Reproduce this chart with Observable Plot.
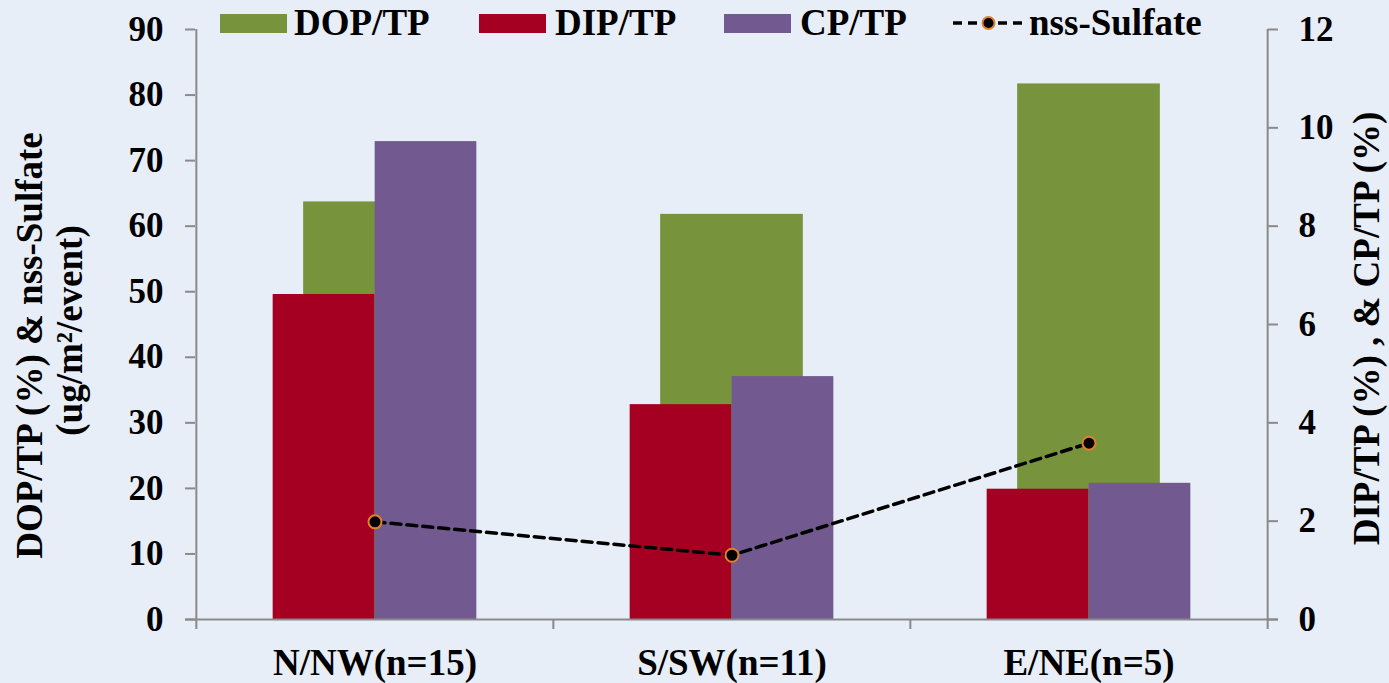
<!DOCTYPE html>
<html>
<head>
<meta charset="utf-8">
<script src="https://cdn.jsdelivr.net/npm/d3@7"></script>
<script src="https://cdn.jsdelivr.net/npm/@observablehq/plot@0.6"></script>
<style>
  html, body { margin: 0; padding: 0; background: #e8eef7; }
  #wrap { position: relative; width: 1389px; height: 683px; background: #e8eef7; overflow: hidden; }
  #legend { position: absolute; left: 0; top: 0; pointer-events: none; }
  svg { font-family: "Liberation Serif", "Times New Roman", serif; font-weight: bold; }
</style>
</head>
<body>
<div id="wrap"></div>
<script>
// ---- data ----
const categories = ["N/NW(n=15)", "S/SW(n=11)", "E/NE(n=5)"];
const dopTP = [63.7, 61.8, 81.7];        // left axis (%)
const dipTP = [6.61, 4.37, 2.65];        // right axis (%)
const cpTP = [9.72, 4.94, 2.77];         // right axis (%)
const nssSulfate = [14.9, 9.8, 26.9];    // left axis (ug/m2/event)
const leftTicks = [0, 10, 20, 30, 40, 50, 60, 70, 80, 90];
const rightTicks = [0, 2, 4, 6, 8, 10, 12];
const seriesNames = ["DOP/TP", "DIP/TP", "CP/TP", "nss-Sulfate"];

// ---- styles ----
const green = "#77933c", red = "#a50021", purple = "#72598f", orange = "#e0822a", axisGray = "#8a8a8a";
const W = 1389, H = 683, ML = 195, MR = 122, MT = 29, MB = 64;
const k = 90 / 12; // right axis -> left axis
const bw = (W - ML - MR) / categories.length;
const subW = 102, greenW = 143;
const sidePad = (bw - 2 * subW) / 2;
const greenIn = (bw - greenW) / 2;

const rows = categories.map((c, i) => ({cat: c, dop: dopTP[i], dip: dipTP[i], cp: cpTP[i], sulfate: nssSulfate[i]}));

const chart = Plot.plot({
  width: W, height: H,
  marginLeft: ML, marginRight: MR, marginTop: MT, marginBottom: MB,
  style: {background: "transparent", color: "black", fontFamily: "Liberation Serif", fontWeight: "bold", overflow: "visible"},
  x: {domain: categories, padding: 0, axis: null},
  y: {domain: [0, 90], axis: null},
  marks: [
    Plot.barY(rows, {x: "cat", y: "dop", fill: green, insetLeft: greenIn, insetRight: greenIn}),
    Plot.barY(rows, {x: "cat", y: d => d.dip * k, fill: red, insetLeft: sidePad, insetRight: bw - sidePad - subW}),
    Plot.barY(rows, {x: "cat", y: d => d.cp * k, fill: purple, insetLeft: sidePad + subW, insetRight: sidePad}),
    // axis lines
    Plot.ruleY([0], {stroke: axisGray, strokeWidth: 2, insetLeft: -10, insetRight: -11}),
    Plot.ruleX([categories[0]], {stroke: axisGray, strokeWidth: 2, dx: -bw / 2, insetBottom: -10}),
    Plot.ruleX([categories[categories.length - 1]], {stroke: axisGray, strokeWidth: 2, dx: bw / 2, insetBottom: -10}),
    Plot.ruleX(categories.slice(1), {stroke: axisGray, strokeWidth: 2, dx: -bw / 2, insetTop: H - MT - MB, insetBottom: -10}),
    Plot.axisY({anchor: "left", ticks: leftTicks, tickSize: 10, tickPadding: 22, fontSize: 35, stroke: axisGray, strokeWidth: 2, label: null, tickFormat: d => d}),
    Plot.axisY({anchor: "right", ticks: rightTicks.map(v => v * k), tickSize: 10, tickPadding: 21, fontSize: 35, stroke: axisGray, strokeWidth: 2, label: null, tickFormat: d => Math.round(d / k)}),
    Plot.axisX({anchor: "bottom", tickSize: 0, tickPadding: 29, fontSize: 37, label: null}),
    // sulfate line
    Plot.line(rows, {x: "cat", y: "sulfate", stroke: "black", strokeWidth: 3.5, strokeDasharray: "10,6"}),
    Plot.dot(rows, {x: "cat", y: "sulfate", r: 6.5, fill: "black", stroke: orange, strokeWidth: 2}),
    // axis titles
    Plot.text(["DOP/TP (%) & nss-Sulfate"], {text: d => d, frameAnchor: "left", textAnchor: "middle", rotate: -90, dx: -165, dy: 21, fontSize: 37, fontWeight: "bold", fill: "black"}),
    Plot.text(["(ug/m²/event)"], {text: d => d, frameAnchor: "left", textAnchor: "middle", rotate: -90, dx: -125, dy: 6, fontSize: 37, fontWeight: "bold", fill: "black"}),
    Plot.text(["DIP/TP (%) , & CP/TP (%)"], {text: d => d, frameAnchor: "right", textAnchor: "middle", rotate: -90, dx: 100, dy: 4, fontSize: 37, fontWeight: "bold", fill: "black"})
  ]
});

const wrap = document.getElementById("wrap");
wrap.appendChild(chart);

// ---- legend ----
const leg = d3.select(wrap).append("svg").attr("id", "legend").attr("width", W).attr("height", 50);
const items = [
  {name: seriesNames[0], type: "rect", color: green, x: 220, tx: 294},
  {name: seriesNames[1], type: "rect", color: red, x: 479, tx: 555},
  {name: seriesNames[2], type: "rect", color: purple, x: 724, tx: 800},
  {name: seriesNames[3], type: "line", x: 953, tx: 1029}
];
for (const it of items) {
  if (it.type === "rect") {
    leg.append("rect").attr("x", it.x).attr("y", 14).attr("width", 67).attr("height", 19).attr("fill", it.color);
  } else {
    leg.append("line").attr("x1", it.x).attr("x2", it.x + 71).attr("y1", 23).attr("y2", 23)
      .attr("stroke", "black").attr("stroke-width", 3.5).attr("stroke-dasharray", "9,6");
    leg.append("circle").attr("cx", it.x + 35.5).attr("cy", 23).attr("r", 6)
      .attr("fill", "black").attr("stroke", orange).attr("stroke-width", 2);
  }
  leg.append("text").attr("x", it.tx).attr("y", 35).attr("font-size", 37).attr("font-weight", "bold")
    .attr("fill", "black").text(it.name);
}
</script>
</body>
</html>
